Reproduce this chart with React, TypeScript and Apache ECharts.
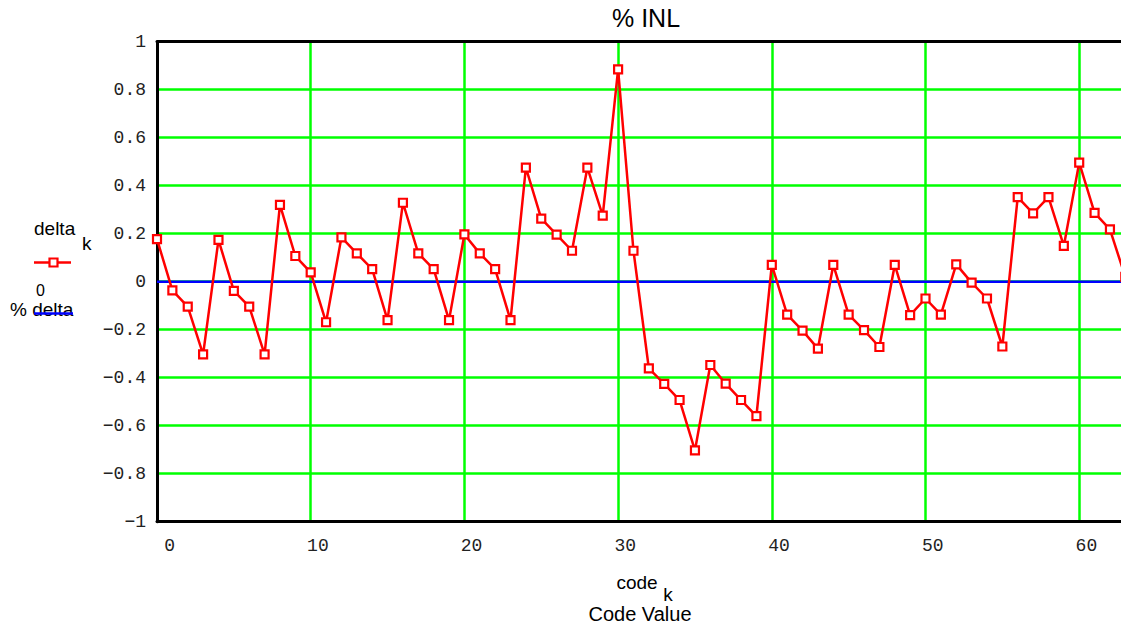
import React, { useEffect, useRef } from "react";
import * as echarts from "echarts";

const delta: number[] = [
  0.177, -0.036, -0.104, -0.303, 0.174, -0.038, -0.104, -0.303,
  0.32, 0.107, 0.039, -0.169, 0.185, 0.118, 0.052, -0.16,
  0.329, 0.118, 0.052, -0.16, 0.197, 0.118, 0.052, -0.16,
  0.475, 0.263, 0.196, 0.129, 0.475, 0.275, 0.885, 0.129,
  -0.361, -0.426, -0.493, -0.703, -0.347, -0.425, -0.493, -0.56,
  0.07, -0.137, -0.204, -0.279, 0.07, -0.137, -0.202, -0.272,
  0.07, -0.139, -0.07, -0.137, 0.072, -0.004, -0.07, -0.27,
  0.352, 0.285, 0.352, 0.149, 0.496, 0.287, 0.218, 0.02,
];
const pctDelta = 0;
const codeMin = 0;
const codeMax = 63;
const xTickStep = 10;
const yMin = -1;
const yMax = 1;
const yTickStep = 0.2;

const MONO = "'Liberation Mono', 'DejaVu Sans Mono', monospace";
const SANS = "'Liberation Sans', Arial, sans-serif";

function fmtY(v: number): string {
  const r = Math.round(v * 10) / 10;
  if (r === 0) return "0";
  const s = Math.abs(r).toString();
  return (r < 0 ? "\u2212" : "") + s;
}

export default function App() {
  const ref = useRef<HTMLDivElement>(null);
  useEffect(() => {
    if (!ref.current) return;
    const chart = echarts.init(ref.current, undefined, { renderer: "svg" });
    const gridLeft = 157;
    const gridTop = 41.7;
    const gridW = 63 * 15.37;
    const gridH = 480;
    chart.setOption({
      animation: false,
      backgroundColor: "#ffffff",
      grid: { left: gridLeft, top: gridTop, width: gridW, height: gridH, show: false },
      xAxis: [
        {
          type: "value",
          min: codeMin,
          max: codeMax,
          interval: xTickStep,
          axisLine: { show: true, onZero: false, lineStyle: { color: "#000", width: 3 } },
          axisTick: { show: false },
          splitLine: { show: true, lineStyle: { color: "#00ff00", width: 2.5 } },
          axisLabel: {
            showMaxLabel: false,
            fontFamily: MONO,
            fontSize: 18,
            color: "#222",
            margin: 15,
            align: "right",
            padding: [0, -18, 0, 0],
          },
        },
        {
          type: "value",
          position: "top",
          min: codeMin,
          max: codeMax,
          interval: xTickStep,
          axisLine: { show: true, onZero: false, lineStyle: { color: "#000", width: 3 } },
          axisTick: { show: false },
          splitLine: { show: false },
          axisLabel: { show: false },
        },
      ],
      yAxis: {
        type: "value",
        min: yMin,
        max: yMax,
        interval: yTickStep,
        axisLine: { show: true, onZero: false, lineStyle: { color: "#000", width: 3 } },
        axisTick: { show: false },
        splitLine: { show: true, lineStyle: { color: "#00ff00", width: 2.5 } },
        axisLabel: {
          fontFamily: MONO,
          fontSize: 18,
          color: "#222",
          margin: 11,
          formatter: fmtY,
        },
      },
      series: [
        {
          name: "delta",
          type: "line",
          data: delta.map((v, i) => [i, v]),
          symbol: "rect",
          symbolSize: 8,
          showAllSymbol: true,
          lineStyle: { color: "#ff0000", width: 2.5 },
          itemStyle: { color: "#ffffff", borderColor: "#ff0000", borderWidth: 2.2 },
          z: 3,
        },
        {
          name: "% delta",
          type: "line",
          data: [
            [codeMin, pctDelta],
            [codeMax, pctDelta],
          ],
          symbol: "none",
          lineStyle: { color: "#0000ff", width: 2.5 },
          z: 2,
        },
      ],
      graphic: [
        {
          type: "text",
          x: 646,
          y: 18,
          style: { text: "% INL", font: `25px ${SANS}`, fill: "#000", align: "center", verticalAlign: "middle" },
        },
        {
          type: "text",
          x: 34,
          y: 228,
          style: { text: "delta", font: `19px ${SANS}`, fill: "#000", align: "left", verticalAlign: "middle" },
        },
        {
          type: "text",
          x: 82,
          y: 243,
          style: { text: "k", font: `19px ${SANS}`, fill: "#000", align: "left", verticalAlign: "middle" },
        },
        {
          type: "line",
          shape: { x1: 34, y1: 262.5, x2: 71, y2: 262.5 },
          style: { stroke: "#ff0000", lineWidth: 2.5 },
        },
        {
          type: "rect",
          shape: { x: 49.5, y: 258.5, width: 8, height: 8 },
          style: { fill: "#ffffff", stroke: "#ff0000", lineWidth: 2.2 },
        },
        {
          type: "text",
          x: 40.5,
          y: 290,
          style: { text: "0", font: `16px ${SANS}`, fill: "#000", align: "center", verticalAlign: "middle" },
        },
        {
          type: "text",
          x: 10,
          y: 309,
          style: { text: "% delta", font: `19px ${SANS}`, fill: "#000", align: "left", verticalAlign: "middle" },
        },
        {
          type: "line",
          shape: { x1: 34, y1: 313.5, x2: 73, y2: 313.5 },
          style: { stroke: "#0000ff", lineWidth: 2.5 },
        },
        {
          type: "text",
          x: 637,
          y: 582,
          style: { text: "code", font: `19px ${SANS}`, fill: "#000", align: "center", verticalAlign: "middle" },
        },
        {
          type: "text",
          x: 668,
          y: 594,
          style: { text: "k", font: `19px ${SANS}`, fill: "#000", align: "center", verticalAlign: "middle" },
        },
        {
          type: "text",
          x: 640,
          y: 614,
          style: { text: "Code Value", font: `20px ${SANS}`, fill: "#000", align: "center", verticalAlign: "middle" },
        },
      ],
    });
    return () => chart.dispose();
  }, []);
  return (
    <div
      ref={ref}
      style={{ position: "fixed", left: 0, top: 0, width: 1132, height: 628, background: "#fff" }}
    />
  );
}
